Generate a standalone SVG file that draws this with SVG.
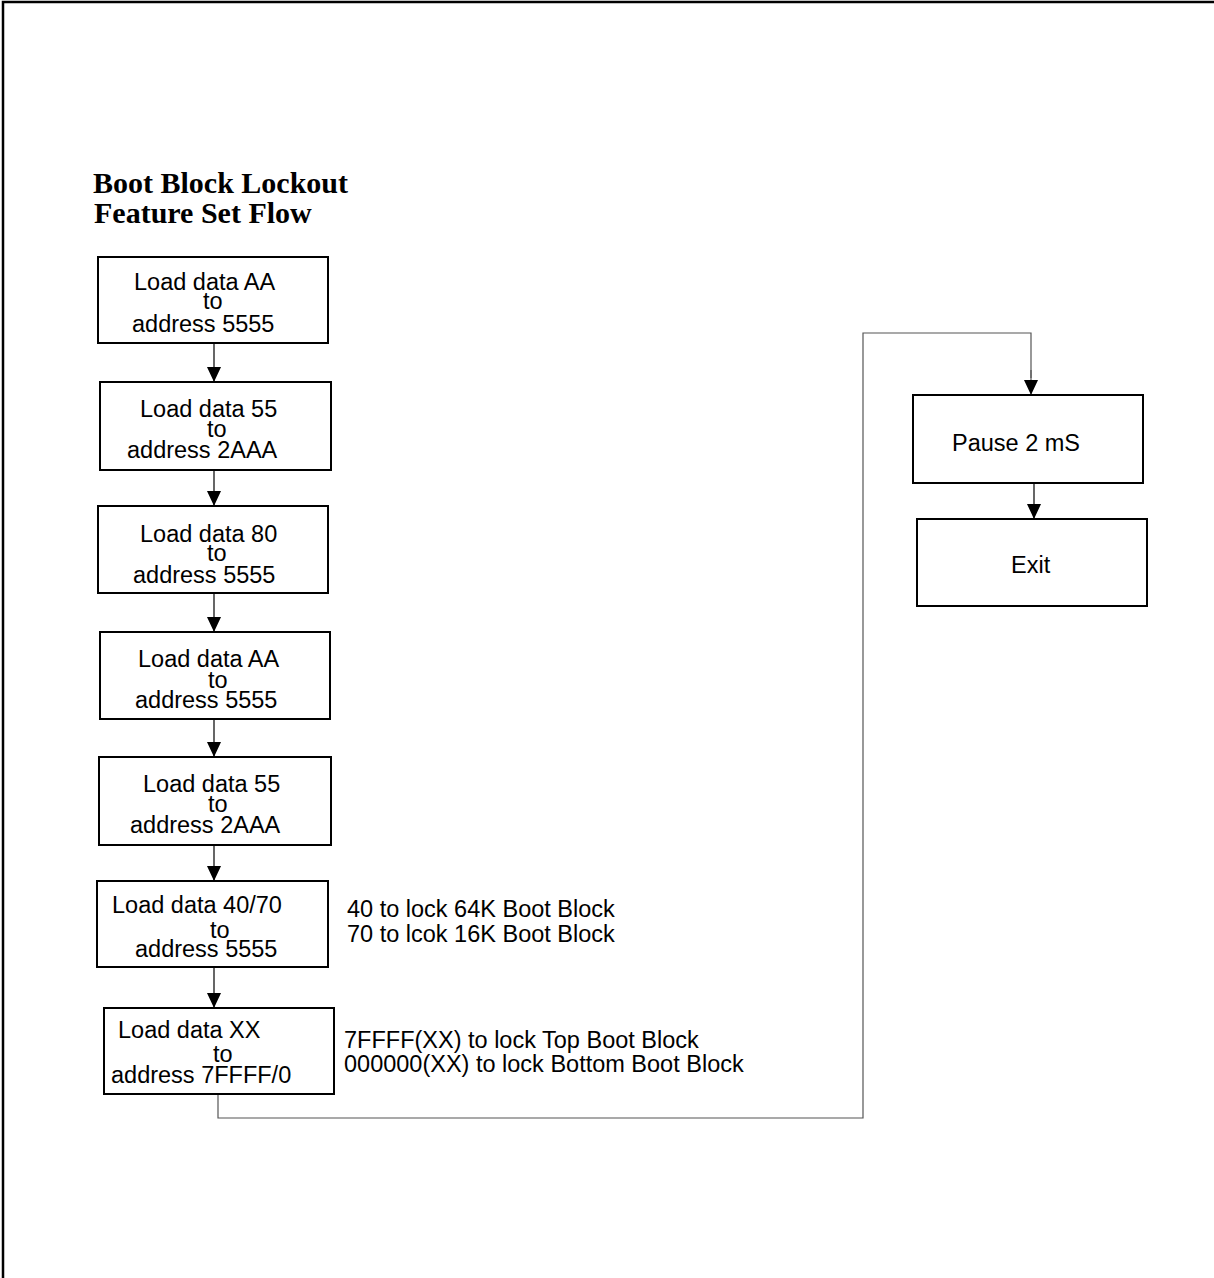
<svg xmlns="http://www.w3.org/2000/svg" width="1214" height="1278" viewBox="0 0 1214 1278">
<style>
.box{fill:#fff;stroke:#000;stroke-width:2}
.t{font-family:"Liberation Sans",Arial,sans-serif;font-size:23.5px;fill:#000}
.title{font-family:"Liberation Serif","Times New Roman",serif;font-size:30px;font-weight:bold;fill:#000}
.arr{fill:none;stroke:#000;stroke-width:1.2;marker-end:url(#ah)}
.conn{fill:none;stroke:#555;stroke-width:1.2}
</style>
<defs>
<marker id="ah" viewBox="0 0 15 14" refX="15" refY="7" markerWidth="15" markerHeight="14" markerUnits="userSpaceOnUse" orient="auto">
<path d="M0,0 L15,7 L0,14 z" fill="#000"/>
</marker>
</defs>
<rect width="1214" height="1278" fill="#fff"/>
<path d="M3,1278 V2 H1214" fill="none" stroke="#000" stroke-width="2.5"/>
<g id="title">
<text class="title" x="93" y="193">Boot Block Lockout</text>
<text class="title" x="94" y="223">Feature Set Flow</text>
</g>
<g id="connectors">
<line class="arr" x1="214" y1="343" x2="214" y2="382"/>
<line class="arr" x1="214" y1="470" x2="214" y2="506"/>
<line class="arr" x1="214" y1="593" x2="214" y2="632"/>
<line class="arr" x1="214" y1="719" x2="214" y2="757"/>
<line class="arr" x1="214" y1="845" x2="214" y2="881"/>
<line class="arr" x1="214" y1="967" x2="214" y2="1008"/>
<path class="conn" d="M218,1094 V1118 H863 V333 H1031 V378"/>
<line class="arr" x1="1031" y1="370" x2="1031" y2="395" style="stroke:#555"/>
<line class="arr" x1="1034" y1="483" x2="1034" y2="519"/>
</g>
<g id="n1">
<rect class="box" x="98" y="257" width="230" height="86"/>
<text class="t" x="134" y="290">Load data AA</text>
<text class="t" x="203" y="309">to</text>
<text class="t" x="132" y="332">address 5555</text>
</g>
<g id="n2">
<rect class="box" x="100" y="382" width="231" height="88"/>
<text class="t" x="140" y="417">Load data 55</text>
<text class="t" x="207" y="437">to</text>
<text class="t" x="127" y="458">address 2AAA</text>
</g>
<g id="n3">
<rect class="box" x="98" y="506" width="230" height="87"/>
<text class="t" x="140" y="542">Load data 80</text>
<text class="t" x="207" y="561">to</text>
<text class="t" x="133" y="583">address 5555</text>
</g>
<g id="n4">
<rect class="box" x="100" y="632" width="230" height="87"/>
<text class="t" x="138" y="667">Load data AA</text>
<text class="t" x="208" y="688">to</text>
<text class="t" x="135" y="708">address 5555</text>
</g>
<g id="n5">
<rect class="box" x="99" y="757" width="232" height="88"/>
<text class="t" x="143" y="792">Load data 55</text>
<text class="t" x="208" y="812">to</text>
<text class="t" x="130" y="833">address 2AAA</text>
</g>
<g id="n6">
<rect class="box" x="97" y="881" width="231" height="86"/>
<text class="t" x="112" y="913">Load data 40/70</text>
<text class="t" x="210" y="938">to</text>
<text class="t" x="135" y="957">address 5555</text>
</g>
<g id="note6">
<text class="t" x="347" y="917">40 to lock 64K Boot Block</text>
<text class="t" x="347" y="942">70 to lcok 16K Boot Block</text>
</g>
<g id="n7">
<rect class="box" x="104" y="1008" width="230" height="86"/>
<text class="t" x="118" y="1038">Load data XX</text>
<text class="t" x="213" y="1062">to</text>
<text class="t" x="111" y="1083">address 7FFFF/0</text>
</g>
<g id="note7">
<text class="t" x="344" y="1048">7FFFF(XX) to lock Top Boot Block</text>
<text class="t" x="344" y="1072">000000(XX) to lock Bottom Boot Block</text>
</g>
<g id="n8">
<rect class="box" x="913" y="395" width="230" height="88"/>
<text class="t" x="952" y="451">Pause 2 mS</text>
</g>
<g id="n9">
<rect class="box" x="917" y="519" width="230" height="87"/>
<text class="t" x="1011" y="573">Exit</text>
</g>
</svg>
